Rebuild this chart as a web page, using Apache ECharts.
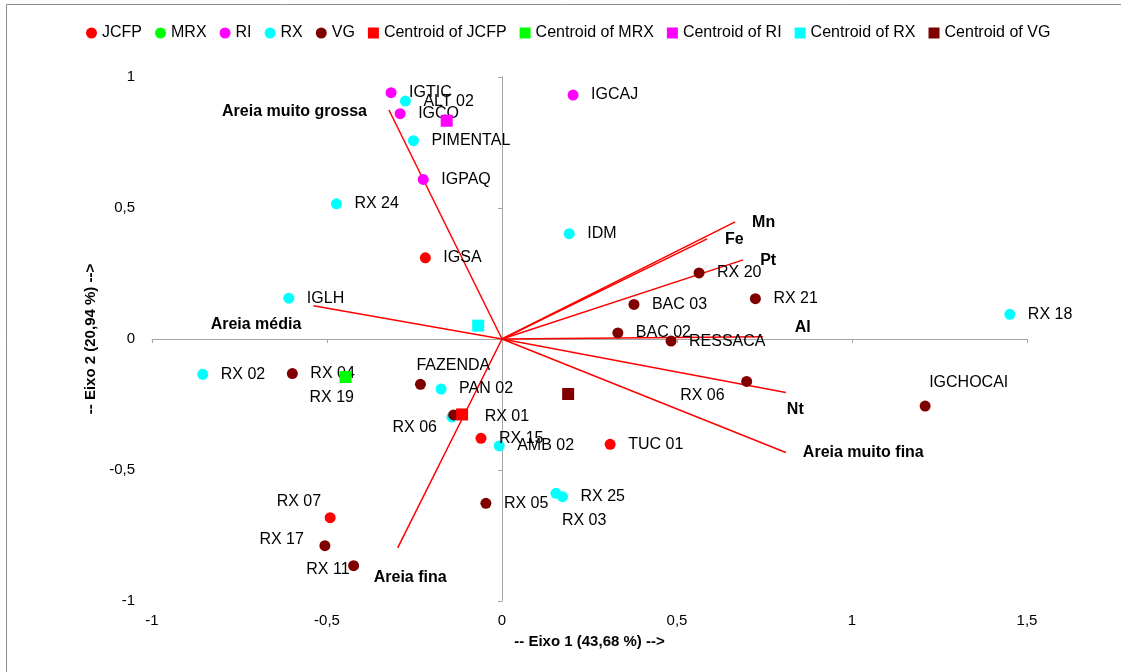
<!DOCTYPE html>
<html>
<head>
<meta charset="utf-8">
<script src="https://cdn.jsdelivr.net/npm/echarts@6/dist/echarts.min.js"></script>
<style>
  html, body { margin: 0; padding: 0; background: #ffffff; }
  #chart { width: 1121px; height: 672px; }
</style>
</head>
<body>
<div id="chart"></div>
<script>
// ---- Observations by group (Eixo 1, Eixo 2) ----
const groupNames = ['JCFP', 'MRX', 'RI', 'RX', 'VG'];

const jcfpNames = ['IGSA', 'RX 15', 'TUC 01', 'RX 07'];
const jcfpX = [-0.219, -0.060, 0.309, -0.491];
const jcfpY = [0.310, -0.379, -0.402, -0.682];

const mrxNames = ['RX 19'];
const mrxX = [-0.447];
const mrxY = [-0.145];

const riNames = ['IGTIC', 'IGCO', 'IGPAQ', 'IGCAJ'];
const riX = [-0.317, -0.291, -0.225, 0.203];
const riY = [0.940, 0.860, 0.609, 0.931];

const rxNames = ['ALT 02', 'PIMENTAL', 'RX 24', 'IDM', 'IGLH', 'RX 02', 'PAN 02', 'RX 06', 'AMB 02', 'RX 03', 'RX 25', 'RX 18'];
const rxX = [-0.276, -0.253, -0.473, 0.192, -0.609, -0.855, -0.174, -0.143, -0.008, 0.154, 0.173, 1.451];
const rxY = [0.908, 0.757, 0.516, 0.402, 0.156, -0.135, -0.191, -0.298, -0.408, -0.589, -0.602, 0.094];

const vgNames = ['RX 20', 'BAC 03', 'RX 21', 'BAC 02', 'RESSACA', 'RX 06', 'IGCHOCAI', 'RX 04', 'FAZENDA', 'RX 01', 'RX 05', 'RX 17', 'RX 11'];
const vgX = [0.563, 0.377, 0.724, 0.331, 0.483, 0.699, 1.209, -0.599, -0.233, -0.138, -0.046, -0.506, -0.424];
const vgY = [0.252, 0.132, 0.154, 0.023, -0.008, -0.162, -0.256, -0.132, -0.173, -0.290, -0.627, -0.789, -0.865];

// ---- Group centroids ----
const centroidX = [-0.114, -0.447, -0.158, -0.068, 0.189];
const centroidY = [-0.288, -0.145, 0.833, 0.051, -0.210];

// ---- Variable vectors (loadings) ----
const varNames = ['Areia muito grossa', 'Areia média', 'Areia fina', 'Areia muito fina', 'Nt', 'Al', 'Pt', 'Mn', 'Fe'];
const varX = [-0.323, -0.539, -0.298, 0.811, 0.811, 0.745, 0.689, 0.666, 0.586];
const varY = [0.874, 0.127, -0.797, -0.433, -0.204, 0.009, 0.302, 0.447, 0.382];

// ---- Axis ticks ----
const xTicks = [-1, -0.5, 0, 0.5, 1, 1.5];
const yTicks = [-1, -0.5, 0, 0.5, 1];

// ---- Styling ----
const FONT = '"Liberation Sans", Arial, sans-serif';
const groupColors = ['#ff0000', '#00ff00', '#ff00ff', '#00ffff', '#800000'];
const axisGray = '#a6a6a6';

// Label placement (pixel offsets from the mark centre); default is to the right.
const defaultPlace = { align: 'left', dx: 18, dy: 0 };
const pointPlace = {
  'RX|RX 06': { align: 'right', dx: -15, dy: 11 },
  'RX|RX 03': { align: 'left', dx: 6, dy: 27 },
  'VG|RX 01': { align: 'left', dx: 31, dy: 2 },
  'VG|FAZENDA': { align: 'left', dx: -4, dy: -19 },
  'MRX|RX 19': { align: 'left', dx: -36, dy: 21 },
  'JCFP|RX 07': { align: 'right', dx: -9, dy: -16 },
  'VG|RX 17': { align: 'right', dx: -21, dy: -6 },
  'VG|RX 11': { align: 'right', dx: -4, dy: 4 },
  'VG|RX 06': { align: 'right', dx: -22, dy: 14 },
  'VG|IGCHOCAI': { align: 'left', dx: 4, dy: -23 }
};
const varPlace = {
  'Areia muito grossa': { align: 'right', dx: -22, dy: 2 },
  'Areia média': { align: 'right', dx: -12, dy: 19 },
  'Areia fina': { align: 'left', dx: -24, dy: 30 },
  'Areia muito fina': { align: 'left', dx: 17, dy: 0 },
  'Nt': { align: 'left', dx: 1, dy: 17 },
  'Al': { align: 'left', dx: 32, dy: -9 },
  'Pt': { align: 'left', dx: 17, dy: 1 },
  'Mn': { align: 'left', dx: 17, dy: 1 },
  'Fe': { align: 'left', dx: 18, dy: 1 }
};

const groupData = [
  [jcfpNames, jcfpX, jcfpY],
  [mrxNames, mrxX, mrxY],
  [riNames, riX, riY],
  [rxNames, rxX, rxY],
  [vgNames, vgX, vgY]
];

const fmt = v => String(v).replace('.', ',');

function labelFor(place, bold) {
  return {
    position: 'inside',
    align: place.align,
    verticalAlign: 'middle',
    offset: [place.dx, place.dy],
    color: '#000000',
    opacity: 1,
    textBorderWidth: 0,
    fontWeight: bold ? 'bold' : 'normal'
  };
}

const series = [];

// Vectors from the origin
series.push({
  name: 'vectors',
  type: 'lines',
  coordinateSystem: 'cartesian2d',
  xAxisIndex: 0,
  yAxisIndex: 0,
  silent: true,
  z: 1,
  lineStyle: { color: '#ff0000', width: 1.5, opacity: 1 },
  data: varX.map((x, i) => ({ coords: [[0, 0], [x, varY[i]]] }))
});

// Vector names
series.push({
  name: 'variables',
  type: 'scatter',
  xAxisIndex: 0,
  yAxisIndex: 0,
  silent: true,
  symbolSize: 0,
  itemStyle: { color: '#000000' },
  z: 3,
  label: {
    show: true,
    formatter: p => p.name,
    color: '#000000',
    fontFamily: FONT,
    fontSize: 16,
    fontWeight: 'bold'
  },
  data: varNames.map((n, i) => ({
    name: n,
    value: [varX[i], varY[i]],
    label: labelFor(varPlace[n] || defaultPlace, true)
  }))
});

// Observations
groupNames.forEach((g, gi) => {
  const [names, xs, ys] = groupData[gi];
  series.push({
    name: g,
    type: 'scatter',
    xAxisIndex: 0,
    yAxisIndex: 0,
    symbol: 'circle',
    symbolSize: 11,
    itemStyle: { color: groupColors[gi], opacity: 1 },
    z: 4,
    label: {
      show: true,
      formatter: p => p.name,
      color: '#000',
      fontFamily: FONT,
      fontSize: 16
    },
    data: names.map((n, i) => ({
      name: n,
      value: [xs[i], ys[i]],
      label: labelFor(pointPlace[g + '|' + n] || defaultPlace, false)
    }))
  });
});

// Centroids
groupNames.forEach((g, gi) => {
  series.push({
    name: 'Centroid of ' + g,
    type: 'scatter',
    xAxisIndex: 0,
    yAxisIndex: 0,
    symbol: 'rect',
    symbolSize: 12,
    itemStyle: { color: groupColors[gi], opacity: 1 },
    z: 5,
    data: [[centroidX[gi], centroidY[gi]]]
  });
});

const legendNames = groupNames.concat(groupNames.map(g => 'Centroid of ' + g));

const option = {
  backgroundColor: '#ffffff',
  animation: false,
  graphic: [{
    type: 'rect',
    silent: true,
    shape: { x: 6.5, y: 4.5, width: 1200, height: 700 },
    style: { fill: 'none', stroke: '#8c8c8c', lineWidth: 1 }
  }],
  legend: {
    data: legendNames,
    left: 86,
    top: 25,
    padding: 0,
    itemWidth: 11,
    itemHeight: 11,
    itemGap: 13,
    textStyle: { color: '#000', fontFamily: FONT, fontSize: 16 },
    selectedMode: false
  },
  grid: { left: 152, right: 94, top: 77, bottom: 71, containLabel: false },
  xAxis: [
    {
      type: 'value',
      min: xTicks[0],
      max: xTicks[xTicks.length - 1],
      interval: 0.5,
      position: 'bottom',
      axisLine: { show: false, onZero: false },
      axisTick: { show: false },
      splitLine: { show: false },
      axisLabel: {
        formatter: fmt,
        margin: 12,
        color: '#000',
        fontFamily: FONT,
        fontSize: 15
      },
      name: '-- Eixo 1 (43,68 %) -->',
      nameLocation: 'middle',
      nameGap: 33,
      nameTextStyle: { color: '#000', fontFamily: FONT, fontSize: 15, fontWeight: 'bold' }
    },
    {
      type: 'value',
      min: xTicks[0],
      max: xTicks[xTicks.length - 1],
      interval: 0.5,
      position: 'bottom',
      axisLine: { show: true, onZero: true, onZeroAxisIndex: 0, lineStyle: { color: axisGray, width: 1 } },
      axisTick: { show: true, length: 4, lineStyle: { color: axisGray } },
      axisLabel: { show: false },
      splitLine: { show: false }
    }
  ],
  yAxis: [
    {
      type: 'value',
      min: yTicks[0],
      max: yTicks[yTicks.length - 1],
      interval: 0.5,
      position: 'left',
      axisLine: { show: false, onZero: false },
      axisTick: { show: false },
      splitLine: { show: false },
      axisLabel: {
        formatter: fmt,
        margin: 17,
        color: '#000',
        fontFamily: FONT,
        fontSize: 15
      },
      name: '-- Eixo 2 (20,94 %) -->',
      nameLocation: 'middle',
      nameGap: 51,
      nameTextStyle: { color: '#000', fontFamily: FONT, fontSize: 15, fontWeight: 'bold' }
    },
    {
      type: 'value',
      min: yTicks[0],
      max: yTicks[yTicks.length - 1],
      interval: 0.5,
      position: 'left',
      axisLine: { show: true, onZero: true, onZeroAxisIndex: 0, lineStyle: { color: axisGray, width: 1 } },
      axisTick: { show: true, length: 4, lineStyle: { color: axisGray } },
      axisLabel: { show: false },
      splitLine: { show: false }
    }
  ],
  series: series
};

const chart = echarts.init(document.getElementById('chart'), null, { renderer: 'canvas' });
chart.setOption(option);
</script>
</body>
</html>
